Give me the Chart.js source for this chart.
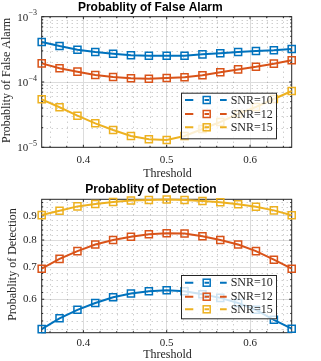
<!DOCTYPE html>
<html><head><meta charset="utf-8">
<script src="https://cdn.jsdelivr.net/npm/chart.js@4/dist/chart.umd.min.js"></script>
<style>
html,body{margin:0;padding:0;background:#fff;width:321px;height:361px;overflow:hidden}
canvas{position:absolute;left:0;display:block}
#c1{top:0}
#c2{top:180px}
</style></head><body>
<canvas id="c1" width="321" height="180"></canvas>
<canvas id="c2" width="321" height="181"></canvas>
<script>
// ---- data ----
const thresholds = [0.35, 0.3714, 0.3929, 0.4143, 0.4357, 0.4571, 0.4786, 0.5, 0.5214, 0.5429, 0.5643, 0.5857, 0.6071, 0.6286, 0.65];
const snrLabels = ['SNR=10', 'SNR=12', 'SNR=15'];
const pfaSNR10 = [4.1e-4, 3.55e-4, 3.12e-4, 2.88e-4, 2.71e-4, 2.57e-4, 2.53e-4, 2.52e-4, 2.53e-4, 2.65e-4, 2.75e-4, 2.88e-4, 2.99e-4, 3.06e-4, 3.2e-4];
const pfaSNR12 = [1.93e-4, 1.62e-4, 1.44e-4, 1.28e-4, 1.19e-4, 1.14e-4, 1.12e-4, 1.15e-4, 1.18e-4, 1.27e-4, 1.41e-4, 1.56e-4, 1.71e-4, 1.91e-4, 2.15e-4];
const pfaSNR15 = [5.43e-5, 4.1e-5, 3.05e-5, 2.33e-5, 1.84e-5, 1.49e-5, 1.33e-5, 1.29e-5, 1.49e-5, 1.91e-5, 2.44e-5, 3.24e-5, 4.14e-5, 5.49e-5, 7.28e-5];
const pdSNR10 = [0.519, 0.547, 0.570, 0.589, 0.606, 0.617, 0.624, 0.627, 0.624, 0.615, 0.604, 0.589, 0.570, 0.543, 0.520];
const pdSNR12 = [0.696, 0.730, 0.758, 0.783, 0.800, 0.813, 0.823, 0.827, 0.826, 0.815, 0.800, 0.783, 0.758, 0.727, 0.696];
const pdSNR15 = [0.903, 0.922, 0.942, 0.953, 0.962, 0.969, 0.972, 0.974, 0.972, 0.967, 0.961, 0.952, 0.940, 0.924, 0.902];
const xTicks = [0.4, 0.5, 0.6];
const xMinorTicks = [0.36, 0.38, 0.42, 0.44, 0.46, 0.48, 0.52, 0.54, 0.56, 0.58, 0.62, 0.64];
const pfaTicks = [1e-5, 1e-4, 1e-3];
const pfaMinorTicks = [2e-5, 3e-5, 4e-5, 5e-5, 6e-5, 7e-5, 8e-5, 9e-5, 2e-4, 3e-4, 4e-4, 5e-4, 6e-4, 7e-4, 8e-4, 9e-4];
const pdTicks = [0.6, 0.7, 0.8, 0.9];
const pdMinorTicks = [0.52, 0.54, 0.56, 0.58, 0.62, 0.64, 0.66, 0.68, 0.72, 0.74, 0.76, 0.78, 0.82, 0.84, 0.86, 0.88, 0.92, 0.94, 0.96];
const titles = ['Probablity of False Alarm', 'Probablity of Detection'];
const yTitles = ['Probablity of False Alarm', 'Probablity of Detection'];
const xTitle = 'Threshold';

const colors = ['#0072BD', '#D95319', '#EDB120'];
const AX = '#262626';
const SERIF = '"Liberation Serif", "DejaVu Serif", serif';
const SANS = '"Liberation Sans", Arial, sans-serif';

function makeDatasets(series) {
  return series.map((vals, i) => ({
    label: snrLabels[i],
    data: thresholds.map((t, k) => ({ x: t, y: vals[k] })),
    borderColor: colors[i],
    backgroundColor: colors[i],
    borderWidth: 2,
    pointStyle: 'rect',
    pointRadius: 5,
    pointHoverRadius: 5,
    pointBorderWidth: 1.5,
    pointBackgroundColor: 'rgba(255,255,255,0)',
    pointBorderColor: colors[i],
    tension: 0,
    clip: false
  }));
}

function makePlugin(g) {
  return {
    id: 'matlabLook',
    beforeDatasetsDraw(chart) {
      const ctx = chart.ctx, a = chart.chartArea;
      const xs = chart.scales.x, ys = chart.scales.y;
      ctx.save();
      // minor grids (dotted)
      ctx.strokeStyle = 'rgba(38,38,38,0.32)';
      ctx.lineWidth = 1;
      ctx.setLineDash([1, 4]);
      g.yMinor.forEach(v => {
        const p = Math.round(ys.getPixelForValue(v)) + 0.5;
        ctx.beginPath(); ctx.moveTo(a.left, p); ctx.lineTo(a.right, p); ctx.stroke();
      });
      g.xMinor.forEach(v => {
        const p = Math.round(xs.getPixelForValue(v)) + 0.5;
        ctx.beginPath(); ctx.moveTo(p, a.top); ctx.lineTo(p, a.bottom); ctx.stroke();
      });
      ctx.setLineDash([]);
      // box
      ctx.strokeStyle = AX;
      ctx.lineWidth = 1;
      ctx.strokeRect(a.left, a.top, a.right - a.left, a.bottom - a.top);
      // ticks
      const tl = 2.5, tm = 1.5;
      ctx.beginPath();
      g.xMajor.forEach(v => { const p = xs.getPixelForValue(v);
        ctx.moveTo(p, a.bottom); ctx.lineTo(p, a.bottom - tl); ctx.moveTo(p, a.top); ctx.lineTo(p, a.top + tl); });
      g.yMajor.forEach(v => { const p = ys.getPixelForValue(v);
        ctx.moveTo(a.left, p); ctx.lineTo(a.left + tl, p); ctx.moveTo(a.right, p); ctx.lineTo(a.right - tl, p); });
      g.xMinor.forEach(v => { const p = xs.getPixelForValue(v);
        ctx.moveTo(p, a.bottom); ctx.lineTo(p, a.bottom - tm); ctx.moveTo(p, a.top); ctx.lineTo(p, a.top + tm); });
      g.yMinor.forEach(v => { const p = ys.getPixelForValue(v);
        ctx.moveTo(a.left, p); ctx.lineTo(a.left + tm, p); ctx.moveTo(a.right, p); ctx.lineTo(a.right - tm, p); });
      ctx.stroke();
      ctx.restore();
    },
    afterDraw(chart) {
      const ctx = chart.ctx, a = chart.chartArea;
      const ys = chart.scales.y;
      ctx.save();
      ctx.fillStyle = AX;
      // custom log tick labels
      if (g.logLabels) {
        g.yMajor.forEach(v => {
          const py = ys.getPixelForValue(v);
          const e = Math.round(Math.log10(v));
          const expStr = (e < 0 ? '\u2212' : '') + Math.abs(e);
          ctx.font = '8px ' + SERIF;
          const ew = ctx.measureText(expStr).width;
          const right = 37;
          ctx.textAlign = 'left'; ctx.textBaseline = 'alphabetic';
          ctx.fillText(expStr, right - ew, py - 1.5);
          ctx.font = '11px ' + SERIF;
          ctx.textAlign = 'right';
          ctx.fillText('10', right - ew - 0.3, py + 3.8);
        });
      }
      // title
      ctx.font = 'bold 12px ' + SANS;
      ctx.textAlign = 'center'; ctx.textBaseline = 'alphabetic';
      ctx.fillStyle = '#000';
      ctx.fillText(g.title, g.titleX, g.titleY);
      // x title
      ctx.fillStyle = AX;
      ctx.font = '12px ' + SERIF;
      ctx.fillText(xTitle, g.xTitleX, g.xTitleY);
      // y title
      ctx.save();
      ctx.translate(g.yTitleX, g.yTitleY);
      ctx.rotate(-Math.PI / 2);
      ctx.fillText(g.yTitle, 0, 0);
      ctx.restore();
      // legend
      const L = g.legend;
      ctx.fillStyle = 'rgba(255,255,255,0.8)';
      ctx.fillRect(L.x0, L.y0, L.x1 - L.x0, L.y1 - L.y0);
      ctx.strokeStyle = AX; ctx.lineWidth = 1;
      ctx.strokeRect(L.x0 + 0.5, L.y0 + 0.5, L.x1 - L.x0 - 1, L.y1 - L.y0 - 1);
      snrLabels.forEach((lab, i) => {
        const cy = L.rows[i];
        ctx.strokeStyle = colors[i]; ctx.lineWidth = 2;
        ctx.beginPath();
        ctx.moveTo(185, cy); ctx.lineTo(193.3, cy);
        ctx.moveTo(220, cy); ctx.lineTo(226.7, cy);
        ctx.moveTo(204.5, cy); ctx.lineTo(209, cy);
        ctx.stroke();
        ctx.lineWidth = 1.5;
        ctx.strokeRect(203.2, cy - 3.5, 7, 7);
        ctx.fillStyle = AX;
        ctx.font = '12px ' + SERIF;
        ctx.textAlign = 'left'; ctx.textBaseline = 'middle';
        ctx.fillText(lab, 230.7, cy + 0.5);
      });
      ctx.restore();
    }
  };
}

function makeChart(id, series, yScale, g, geo) {
  return new Chart(document.getElementById(id), {
    type: 'line',
    data: { datasets: makeDatasets(series) },
    options: {
      responsive: false,
      animation: false,
      events: [],
      layout: { padding: { top: geo.top, right: 321 - geo.right, left: 0, bottom: 0 } },
      plugins: { legend: { display: false }, title: { display: false }, tooltip: { enabled: false } },
      scales: {
        x: {
          type: 'linear', min: 0.35, max: 0.65,
          afterBuildTicks: s => { s.ticks = xTicks.map(v => ({ value: v })); },
          afterFit: s => { s.height = geo.h - geo.bottom; },
          ticks: { font: { family: SERIF, size: 11 }, color: AX, padding: geo.xPad, maxRotation: 0,
                   callback: v => String(v) },
          grid: { color: '#dcdcdc', lineWidth: 1, drawTicks: false },
          border: { display: false }
        },
        y: Object.assign({
          afterFit: s => { s.width = geo.left; },
          grid: { color: '#dcdcdc', lineWidth: 1, drawTicks: false },
          border: { display: false }
        }, yScale)
      }
    },
    plugins: [makePlugin(g)]
  });
}

makeChart('c1', [pfaSNR10, pfaSNR12, pfaSNR15], {
  type: 'logarithmic', min: 1e-5, max: 1e-3,
  afterBuildTicks: s => { s.ticks = pfaTicks.map(v => ({ value: v })); },
  ticks: { callback: () => '', padding: 4 }
}, {
  xMajor: xTicks, xMinor: xMinorTicks, yMajor: pfaTicks, yMinor: pfaMinorTicks,
  logLabels: true,
  title: titles[0], titleX: 150.3, titleY: 11,
  xTitleX: 167.5, xTitleY: 177.3,
  yTitle: yTitles[0], yTitleX: 10, yTitleY: 80.5,
  legend: { x0: 181, x1: 277, y0: 92.7, y1: 139.3, rows: [100, 114, 127.3] }
}, { top: 16.7, bottom: 147.3, left: 41.7, right: 291.7, h: 180, xPad: 6.1 });

makeChart('c2', [pdSNR10, pdSNR12, pdSNR15], {
  type: 'logarithmic', min: 0.513, max: 0.975,
  afterBuildTicks: s => { s.ticks = pdTicks.map(v => ({ value: v })); },
  ticks: { font: { family: SERIF, size: 11 }, color: AX, padding: 5, callback: v => String(v) }
}, {
  xMajor: xTicks, xMinor: xMinorTicks, yMajor: pdTicks, yMinor: pdMinorTicks,
  logLabels: false,
  title: titles[1], titleX: 151, titleY: 13.3,
  xTitleX: 167.5, xTitleY: 178.3,
  yTitle: yTitles[1], yTitleX: 15.5, yTitleY: 84.5,
  legend: { x0: 181, x1: 277, y0: 95, y1: 139.3, rows: [102.7, 116.7, 129.3] }
}, { top: 19.3, bottom: 152.7, left: 41.7, right: 291.7, h: 181, xPad: 3.6 });
</script>
</body></html>
